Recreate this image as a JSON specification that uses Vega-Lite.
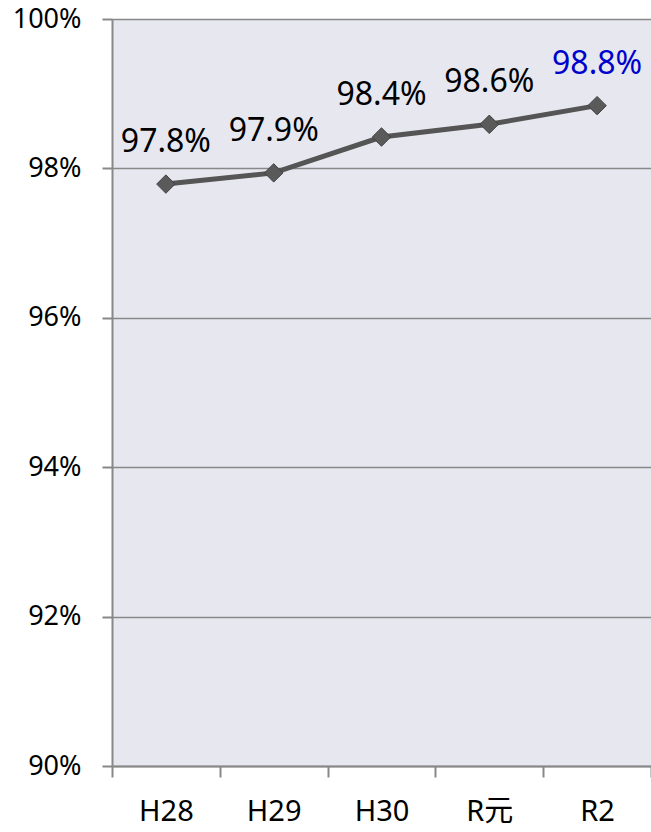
{
  "$schema": "https://vega.github.io/schema/vega-lite/v6.json",
  "width": 539,
  "height": 747,
  "autosize": {"type": "none"},
  "padding": {"left": 112, "top": 19, "right": 0, "bottom": 66},
  "background": "white",
  "config": {
    "view": {"fill": "#E7E7F0", "stroke": null},
    "font": "Noto Sans"
  },
  "data": {
    "values": [
      {"year": "H28", "rate": 0.9779, "latest": false},
      {"year": "H29", "rate": 0.9794, "latest": false},
      {"year": "H30", "rate": 0.9842, "latest": false},
      {"year": "R元", "rate": 0.9859, "latest": false},
      {"year": "R2", "rate": 0.9884, "latest": true}
    ]
  },
  "encoding": {
    "x": {
      "field": "year",
      "type": "nominal",
      "sort": null,
      "scale": {"paddingInner": 0, "paddingOuter": 0},
      "axis": {
        "title": null,
        "labelAngle": 0,
        "labelFont": "Noto Sans, Noto Sans CJK JP",
        "labelFontSize": 29,
        "labelColor": "#000000",
        "labelPadding": 20,
        "tickBand": "extent",
        "tickSize": 11,
        "tickColor": "#888888",
        "tickWidth": 2,
        "domainColor": "#888888",
        "domainWidth": 2,
        "grid": false
      }
    },
    "y": {
      "field": "rate",
      "type": "quantitative",
      "scale": {"domain": [0.9, 1.0], "nice": false, "zero": false},
      "axis": {
        "title": null,
        "format": ".0%",
        "values": [0.9, 0.92, 0.94, 0.96, 0.98, 1.0],
        "labelFontSize": 27,
        "labelColor": "#000000",
        "labelPadding": 21,
        "tickSize": 10,
        "tickColor": "#888888",
        "tickWidth": 2,
        "domainColor": "#888888",
        "domainWidth": 2,
        "grid": true,
        "gridColor": "#888888",
        "gridWidth": 1.5
      }
    }
  },
  "layer": [
    {
      "mark": {"type": "line", "color": "#555555", "strokeWidth": 5},
      "encoding": {}
    },
    {
      "mark": {"type": "point", "shape": "diamond", "filled": true, "size": 340, "fill": "#5A5A5A", "stroke": "#404040", "strokeWidth": 1, "opacity": 1},
      "encoding": {}
    },
    {
      "mark": {"type": "text", "fontSize": 32, "dy": -42, "align": "center", "baseline": "middle"},
      "encoding": {
        "text": {"field": "rate", "type": "quantitative", "format": ".1%"},
        "color": {
          "field": "latest",
          "type": "nominal",
          "scale": {"domain": [false, true], "range": ["#000000", "#0000CC"]},
          "legend": null
        }
      }
    }
  ]
}
